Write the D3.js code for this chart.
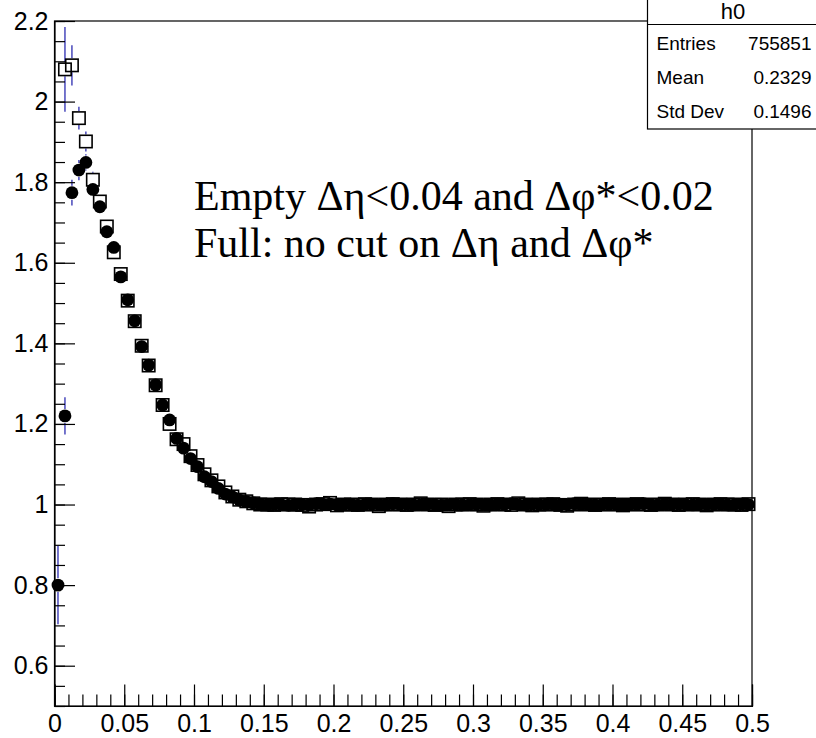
<!DOCTYPE html>
<html lang="en">
	<head>
		<meta charset="utf-8">
		<title>D3: h0 ratio, empty vs full</title>
		<script type="text/javascript" src="https://cdnjs.cloudflare.com/ajax/libs/d3/7.8.5/d3.min.js"></script>
		<style type="text/css">
			body { margin: 0; background: #fff; }
			svg { display: block; }
			.tick text { font-family: "Liberation Sans", Arial, sans-serif; font-size: 25px; fill: #000; }
		</style>
	</head>
	<body>
		<script type="text/javascript">

			//Width and height of the canvas
			var w = 816;
			var h = 738;

			//Frame of the pad, in pixels ("top" is taken by window.top, so own names)
			var frameL = 54.5, frameR = 752, frameT = 21, frameB = 706;

			//Histogram binning (100 bins from 0 to 0.5)
			var xMin = 0, xMax = 0.5, binWidth = 0.005;

			//Full: no cut (filled circles), one value per bin
			var fullValues = [
				0.800, 1.220, 1.774, 1.830, 1.849, 1.782, 1.739, 1.677, 1.638, 1.565,
				1.508, 1.456, 1.392, 1.346, 1.297, 1.247, 1.210, 1.164, 1.140, 1.114,
				1.094, 1.069, 1.057, 1.040, 1.026, 1.019, 1.011, 1.007, 1.004, 1.001,
				0.999, 1.001, 1.000, 0.998, 1.001, 1.000, 0.999, 1.002, 1.000, 1.001,
				0.999, 1.000, 1.001, 0.998, 1.000, 1.001, 1.000, 0.999, 1.002, 1.000,
				1.001, 0.999, 1.000, 1.001, 1.000, 0.998, 1.000, 1.001, 0.999, 1.000,
				1.001, 1.000, 0.999, 1.001, 1.000, 1.002, 1.000, 0.999, 1.001, 1.000,
				1.000, 1.001, 0.999, 1.000, 1.002, 1.000, 1.001, 0.999, 1.000, 1.001,
				1.000, 0.999, 1.001, 1.000, 1.002, 1.000, 0.999, 1.001, 1.000, 1.001,
				1.000, 0.999, 1.001, 1.000, 1.000, 1.001, 0.999, 1.000, 1.001, 1.000
			];
			var fullErrors = [
				0.097, 0.046, 0.032, 0.025, 0.020, 0.017, 0.015, 0.013, 0.012, 0.011,
				0.010, 0.009, 0.008, 0.008, 0.007, 0.007, 0.006, 0.006, 0.006, 0.005
			];

			//Empty: delta-eta < 0.04 and delta-phi* < 0.02 (open squares); bin 0 off scale
			var emptyValues = [
				null,  2.080, 2.090, 1.959, 1.901, 1.806, 1.752, 1.690, 1.626, 1.572,
				1.506, 1.455, 1.394, 1.345, 1.296, 1.247, 1.200, 1.162, 1.150, 1.120,
				1.098, 1.075, 1.060, 1.045, 1.030, 1.020, 1.012, 1.008, 1.003, 1.000,
				1.000, 0.999, 1.001, 1.000, 1.000, 0.999, 0.995, 1.000, 1.001, 1.004,
				0.998, 1.000, 1.000, 0.999, 1.001, 1.000, 0.996, 1.000, 1.001, 1.000,
				0.999, 1.000, 1.003, 1.000, 0.999, 1.000, 0.996, 1.000, 1.000, 1.001,
				1.000, 0.997, 1.000, 1.001, 1.000, 0.999, 1.003, 1.000, 0.998, 1.000,
				1.000, 1.001, 0.999, 0.997, 1.000, 1.002, 1.000, 0.999, 1.000, 1.001,
				1.000, 0.998, 1.000, 1.001, 1.000, 0.999, 1.000, 1.002, 1.000, 0.999,
				1.000, 1.001, 1.000, 0.998, 1.000, 1.001, 1.000, 1.000, 0.999, 1.001
			];
			var emptyErrors = [
				0, 0.105, 0.050, 0.028, 0.025, 0.020, 0.017, 0.015, 0.013, 0.012,
				0.011, 0.010, 0.009, 0.008, 0.008, 0.007, 0.007, 0.006, 0.006, 0.005
			];

			//Axis ticks and labels
			var xMajorTicks = [0, 0.05, 0.1, 0.15, 0.2, 0.25, 0.3, 0.35, 0.4, 0.45, 0.5];
			var xMinorTicks = d3.range(0, 0.5001, 0.01);
			var yMajorTicks = [0.6, 0.8, 1.0, 1.2, 1.4, 1.6, 1.8, 2.0, 2.2];
			var yMinorTicks = d3.range(0.5, 2.2001, 0.05);

			//Stats box and text
			var statsTitle = "h0";
			var statsNames = ["Entries", "Mean", "Std Dev"];
			var statsValues = ["755851", "0.2329", "0.1496"];
			var noteLines = ["Empty \u0394\u03b7<0.04 and \u0394\u03c6*<0.02", "Full: no cut on \u0394\u03b7 and \u0394\u03c6*"];

			//Scales
			var xScale = d3.scaleLinear().domain([xMin, xMax]).range([frameL, frameR]);
			var yScale = d3.scaleLinear().domain([0.5, 2.2]).range([frameB, frameT]);

			//Turn value arrays into points
			var toPoints = (vals, errs) => vals.map((v, i) => ({
				x: xMin + (i + 0.5) * binWidth,
				y: v,
				e: i < errs.length ? errs[i] : 0.004
			})).filter(d => d.y !== null);

			var fullPts = toPoints(fullValues, fullErrors);
			var emptyPts = toPoints(emptyValues, emptyErrors);

			var svg = d3.select("body")
						.append("svg")
						.attr("width", w)
						.attr("height", h);

			//Frame (left/bottom come from axes)
			svg.append("rect")
			   .attr("x", frameL)
			   .attr("y", frameT)
			   .attr("width", frameR - frameL)
			   .attr("height", frameB - frameT)
			   .attr("fill", "none")
			   .attr("stroke", "#000")
			   .attr("stroke-width", 1.2);

			var sq = 12.4;   //open square side
			var half = 7;    //error bars stop at marker edge

			//Error bars, drawn as two pieces outside the marker
			function errorBars(pts) {
				var g = svg.append("g").attr("stroke", "#2b2bb0").attr("stroke-width", 1.3);
				pts.forEach(d => {
					var cx = xScale(d.x), cy = yScale(d.y);
					var y1 = yScale(d.y + d.e), y2 = yScale(d.y - d.e);
					if (cy - half > y1) g.append("line").attr("x1", cx).attr("x2", cx).attr("y1", y1).attr("y2", cy - half);
					if (y2 > cy + half) g.append("line").attr("x1", cx).attr("x2", cx).attr("y1", cy + half).attr("y2", y2);
				});
			}
			errorBars(emptyPts);
			errorBars(fullPts);

			//Open squares for "Empty"
			svg.append("g")
			   .selectAll("rect")
			   .data(emptyPts)
			   .enter()
			   .append("rect")
			   .attr("x", d => xScale(d.x) - sq / 2)
			   .attr("y", d => yScale(d.y) - sq / 2)
			   .attr("width", sq)
			   .attr("height", sq)
			   .attr("fill", "none")
			   .attr("stroke", "#000")
			   .attr("stroke-width", 1.6);

			//Filled circles for "Full"
			svg.append("g")
			   .selectAll("circle")
			   .data(fullPts)
			   .enter()
			   .append("circle")
			   .attr("cx", d => xScale(d.x))
			   .attr("cy", d => yScale(d.y))
			   .attr("r", 6.4)
			   .attr("fill", "#000");

			//X axis: minor then major ticks
			svg.append("g")
			   .attr("transform", `translate(0,${frameB})`)
			   .call(d3.axisBottom(xScale).tickValues(xMinorTicks).tickSize(-11.5).tickFormat(""))
			   .call(g => g.select(".domain").remove());
			svg.append("g")
			   .attr("transform", `translate(0,${frameB})`)
			   .call(d3.axisBottom(xScale).tickValues(xMajorTicks).tickSize(-21.5).tickPadding(8).tickFormat(d3.format("~g")))
			   .call(g => g.select(".domain").attr("stroke-width", 1.2));

			//Y axis
			svg.append("g")
			   .attr("transform", `translate(${frameL},0)`)
			   .call(d3.axisLeft(yScale).tickValues(yMinorTicks).tickSize(-10.5).tickFormat(""))
			   .call(g => g.select(".domain").remove());
			svg.append("g")
			   .attr("transform", `translate(${frameL},0)`)
			   .call(d3.axisLeft(yScale).tickValues(yMajorTicks).tickSize(-20.5).tickPadding(6).tickFormat(d3.format("~g")))
			   .call(g => g.select(".domain").attr("stroke-width", 1.2));

			svg.selectAll(".tick line").attr("stroke", "#000").attr("stroke-width", 1.2);

			//Annotation text
			svg.append("g")
			   .selectAll("text")
			   .data(noteLines)
			   .enter()
			   .append("text")
			   .attr("x", 194)
			   .attr("y", (d, i) => 210 + i * 47)
			   .attr("font-family", "'Liberation Serif', 'Times New Roman', serif")
			   .attr("font-size", 42)
			   .text(d => d);

			//Stats box
			var box = svg.append("g");
			box.append("rect")
			   .attr("x", 647.5)
			   .attr("y", -5)
			   .attr("width", 180)
			   .attr("height", 134)
			   .attr("fill", "#fff")
			   .attr("stroke", "#000")
			   .attr("stroke-width", 1.2);
			box.append("line")
			   .attr("x1", 647.5).attr("x2", 827)
			   .attr("y1", 24.5).attr("y2", 24.5)
			   .attr("stroke", "#000").attr("stroke-width", 1.2);
			box.append("text")
			   .attr("x", 733)
			   .attr("y", 19)
			   .attr("text-anchor", "middle")
			   .attr("font-family", "'Liberation Sans', Arial, sans-serif")
			   .attr("font-size", 22)
			   .text(statsTitle);
			statsNames.forEach((name, i) => {
				box.append("text")
				   .attr("x", 656.5)
				   .attr("y", 49.5 + i * 34)
				   .attr("font-family", "'Liberation Sans', Arial, sans-serif")
				   .attr("font-size", 19)
				   .text(name);
				box.append("text")
				   .attr("x", 811.5)
				   .attr("y", 49.5 + i * 34)
				   .attr("text-anchor", "end")
				   .attr("font-family", "'Liberation Sans', Arial, sans-serif")
				   .attr("font-size", 19)
				   .text(statsValues[i]);
			});

		</script>
	</body>
</html>
